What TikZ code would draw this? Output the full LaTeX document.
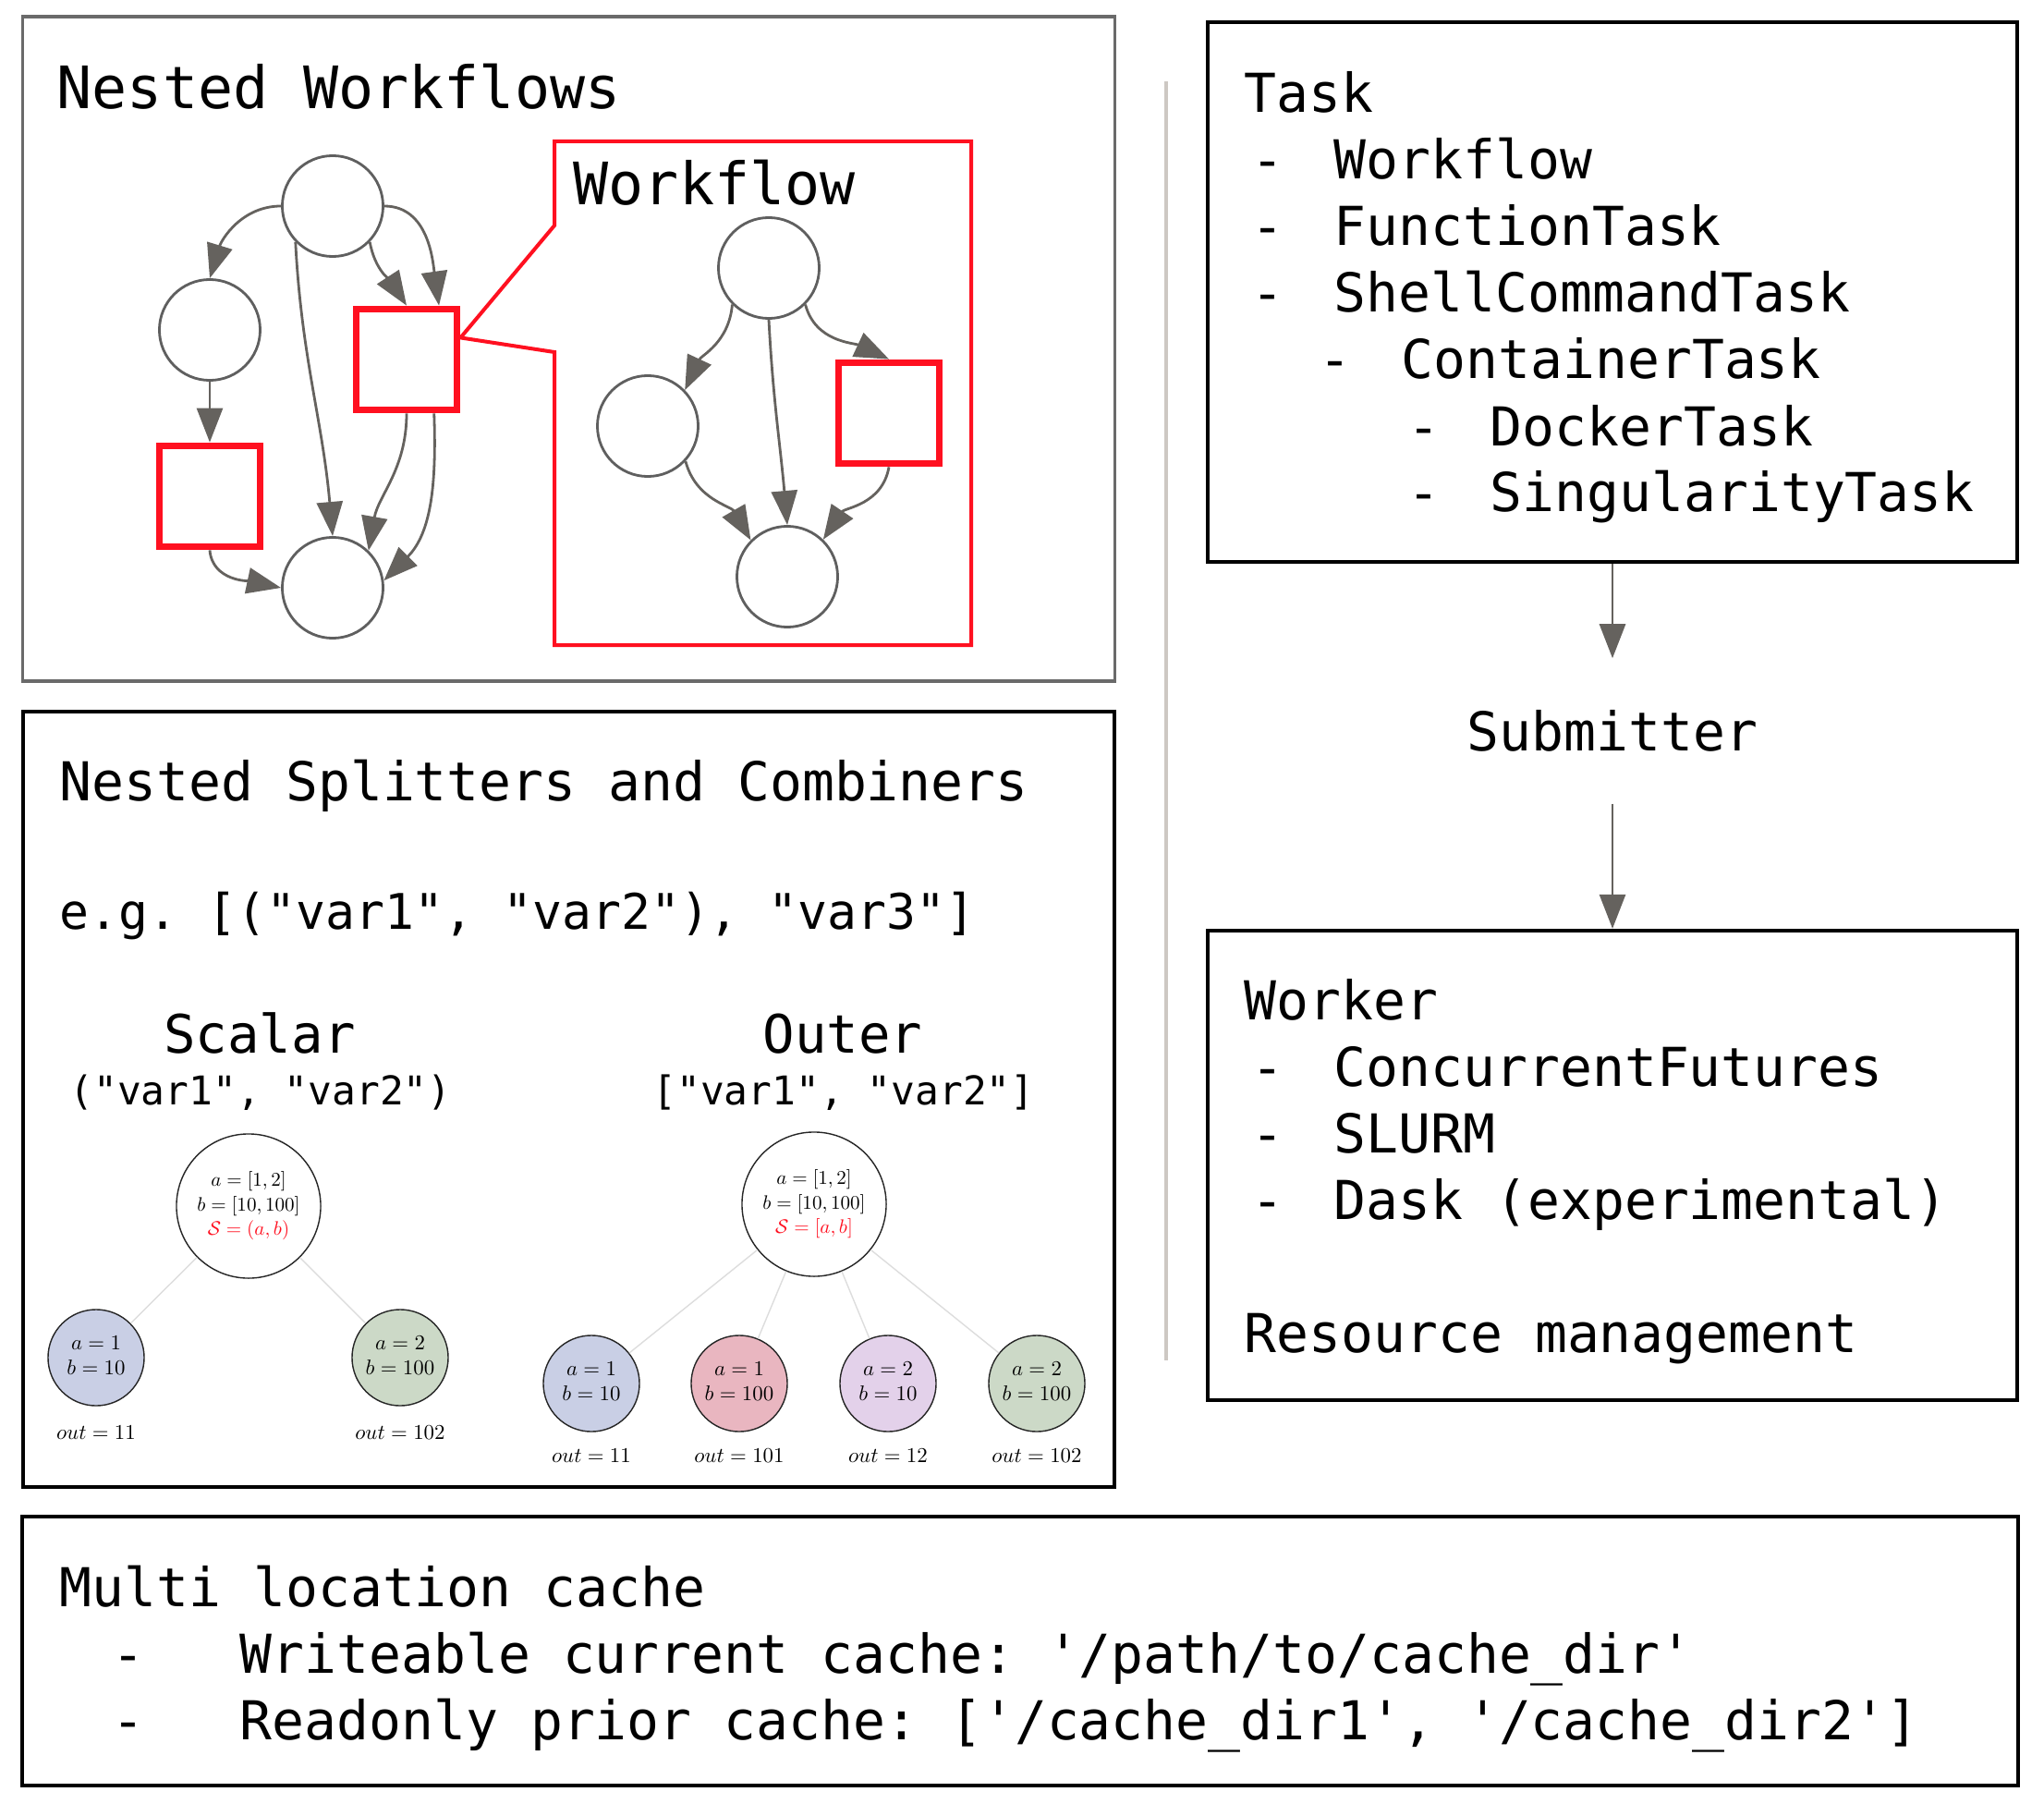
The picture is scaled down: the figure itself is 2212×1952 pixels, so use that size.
\documentclass[tikz,border=0pt]{standalone}
\usepackage{fontspec}
\usepackage{graphicx}
\setmonofont{DejaVu Sans Mono}
\usetikzlibrary{arrows.meta}
\definecolor{edgegray}{HTML}{65625E}
\definecolor{nodegray}{HTML}{5F5F5F}
\definecolor{wfred}{HTML}{FF1020}
\definecolor{framegray}{HTML}{6A6A6A}
\definecolor{sepgray}{HTML}{CDC8C3}
\definecolor{cblue}{HTML}{C9CFE5}
\definecolor{cpink}{HTML}{E9B6C0}
\definecolor{clav}{HTML}{E3D1EA}
\definecolor{cgreen}{HTML}{CCD9C7}
\definecolor{treeline}{HTML}{DDDDDD}
\newcommand\dashitem[2][0.89cm]{\makebox[#1][l]{-}#2}
\newcommand\mstack[3]{\scalebox{#1}{\fontsize{10}{#2}\selectfont\begin{tabular}{@{}c@{}}#3\end{tabular}}}
\begin{document}
\begin{tikzpicture}[x=0.01cm,y=0.01cm,
  panel/.style={draw=black,line width=0.04cm,inner sep=0},
  graypanel/.style={draw=framegray,line width=0.035cm,inner sep=0},
  wfcirc/.style={circle,draw=nodegray,line width=0.028cm,minimum size=1.09cm,inner sep=0},
  wfsq/.style={rectangle,draw=wfred,line width=0.077cm,minimum size=1.09cm,inner sep=0},
  flow/.style={draw=edgegray,line width=0.028cm,-{Triangle[length=0.37cm,width=0.28cm]}},
  bigtxt/.style={font=\ttfamily\fontsize{18}{22}\selectfont,anchor=base west,inner sep=0},
  txt/.style={font=\ttfamily\fontsize{16.5}{20}\selectfont,anchor=base west,inner sep=0},
  egtxt/.style={font=\ttfamily\fontsize{15.1}{18}\selectfont,anchor=base west,inner sep=0},
  headtxt/.style={font=\ttfamily\fontsize{16.3}{20}\selectfont,anchor=base,inner sep=0},
  subtxt/.style={font=\ttfamily\fontsize{12.2}{15}\selectfont,anchor=base,inner sep=0},
  treeroot/.style={circle,draw=black!85,line width=0.4pt,fill=white,minimum size=1.56cm,inner sep=0},
  leaf/.style={circle,draw=black!85,line width=0.4pt,minimum size=1.04cm,inner sep=0},
  outlbl/.style={inner sep=0},
  tedge/.style={draw=treeline,line width=0.4pt}
]
\useasboundingbox (0,0) rectangle (2212,-1952);
\fill[white] (0,0) rectangle (2212,-1952);

% ---------- panels ----------
\node[graypanel,minimum width=11.81cm,minimum height=7.19cm] (nwbox) at (615.5,-377.5) {};
\node[panel,minimum width=11.81cm,minimum height=8.39cm] (spbox) at (615.5,-1189.5) {};
\node[panel,minimum width=8.76cm,minimum height=5.84cm] (taskbox) at (1745,-316) {};
\node[panel,minimum width=8.76cm,minimum height=5.08cm] (workerbox) at (1745,-1261) {};
\node[panel,minimum width=21.58cm,minimum height=2.91cm] (cachebox) at (1104,-1786.5) {};

% separator
\draw[sepgray,line width=0.04cm] (1262,-88) -- (1262,-1472);

% ---------- Nested workflows ----------
\node[bigtxt] (nwtitle) at (61,-118) {Nested Workflows};

\node[wfcirc] (otop) at (360,-223) {};
\node[wfcirc] (oleft) at (227,-357) {};
\node[wfsq] (olsq) at (227,-537) {};
\node[wfsq] (orsq) at (440,-389) {};
\node[wfcirc] (obot) at (360,-636) {};

\node[wfcirc] (itop) at (832,-290) {};
\node[wfcirc] (ileft) at (701,-461) {};
\node[wfsq] (isq) at (962,-447) {};
\node[wfcirc] (ibot) at (852,-624) {};

\draw[wfred,line width=0.04cm,line join=miter] (600,-244) -- (orsq.22) -- (600,-381) -- (600,-698) -- (1051,-698) -- (1051,-153) -- (600,-153) -- cycle;
\node[bigtxt] (wftitle) at (620,-222) {Workflow};

\draw[flow] (otop.west) to[out=180,in=73] (oleft.north);
\draw[flow] (otop.224) to[out=-87,in=95] (obot.north);
\draw[flow] (otop.-44) to[out=-80,in=123] (orsq.north);
\draw[flow] (otop.east) to[out=0,in=98] (orsq.59);
\draw[flow] (oleft.south) -- (olsq.north);
\draw[flow] (olsq.south) to[out=-85,in=168] (obot.west);
\draw[flow] (orsq.south) to[out=-90,in=80] (obot.46);
\draw[flow] (orsq.-63) to[out=-88,in=45] (obot.8);

\draw[flow] (itop.225) to[out=-95,in=65] (ileft.44);
\draw[flow] (itop.south) to[out=-87,in=95] (ibot.north);
\draw[flow] (itop.-45) to[out=-75,in=155] (isq.north);
\draw[flow] (ileft.-43) to[out=-75,in=120] (ibot.135);
\draw[flow] (isq.south) to[out=-100,in=56] (ibot.46);

% ---------- Nested splitters ----------
\node[txt] (sptitle) at (64,-866) {Nested Splitters and Combiners};
\node[egtxt] (eg) at (64,-1005) {e.g. [("var1", "var2"), "var3"]};
\node[headtxt] (scalarh) at (281,-1139) {Scalar};
\node[subtxt] (scalars) at (282,-1195) {("var1", "var2")};
\node[headtxt] (outerh) at (912,-1139) {Outer};
\node[subtxt] (outers) at (913,-1195) {["var1", "var2"]};

\node[treeroot] (sroot) at (269,-1305) {\mstack{0.6}{12.6}{$a=[1,2]$\\$b=[10,100]$\\\textcolor{wfred}{$\mathcal{S}=(a,b)$}}};
\node[leaf,fill=cblue] (s1) at (104,-1469) {\mstack{0.65}{11.8}{$a=1$\\$b=10$}};
\node[leaf,fill=cgreen] (s2) at (433,-1469) {\mstack{0.65}{11.8}{$a=2$\\$b=100$}};
\draw[tedge] (sroot) -- (s1);
\draw[tedge] (sroot) -- (s2);
\node[outlbl] (s1o) at (104,-1552) {\mstack{0.65}{12}{$out=11$}};
\node[outlbl] (s2o) at (433,-1552) {\mstack{0.65}{12}{$out=102$}};

\node[treeroot] (oroot) at (881,-1303) {\mstack{0.6}{12.6}{$a=[1,2]$\\$b=[10,100]$\\\textcolor{wfred}{$\mathcal{S}=[a,b]$}}};
\node[leaf,fill=cblue] (o1) at (640,-1497) {\mstack{0.65}{11.8}{$a=1$\\$b=10$}};
\node[leaf,fill=cpink] (o2) at (800,-1497) {\mstack{0.65}{11.8}{$a=1$\\$b=100$}};
\node[leaf,fill=clav] (o3) at (961,-1497) {\mstack{0.65}{11.8}{$a=2$\\$b=10$}};
\node[leaf,fill=cgreen] (o4) at (1122,-1497) {\mstack{0.65}{11.8}{$a=2$\\$b=100$}};
\draw[tedge] (oroot) -- (o1);
\draw[tedge] (oroot) -- (o2);
\draw[tedge] (oroot) -- (o3);
\draw[tedge] (oroot) -- (o4);
\node[outlbl] (o1o) at (640,-1577) {\mstack{0.65}{12}{$out=11$}};
\node[outlbl] (o2o) at (800,-1577) {\mstack{0.65}{12}{$out=101$}};
\node[outlbl] (o3o) at (961,-1577) {\mstack{0.65}{12}{$out=12$}};
\node[outlbl] (o4o) at (1122,-1577) {\mstack{0.65}{12}{$out=102$}};

% ---------- Task / Submitter / Worker ----------
\node[txt] (t0) at (1346,-122) {Task};
\node[txt] (t1) at (1354,-194) {\dashitem{Workflow}};
\node[txt] (t2) at (1354,-266) {\dashitem{FunctionTask}};
\node[txt] (t3) at (1354,-338) {\dashitem{ShellCommandTask}};
\node[txt] (t4) at (1427,-410) {\dashitem{ContainerTask}};
\node[txt] (t5) at (1523,-482) {\dashitem{DockerTask}};
\node[txt] (t6) at (1523,-554) {\dashitem{SingularityTask}};

\node[font=\ttfamily\fontsize{16.5}{20}\selectfont,anchor=base,inner xsep=0,inner ysep=0.57cm,text height=0.42cm,text depth=0pt] (sub) at (1745,-812) {Submitter};
\draw[flow] (taskbox.south) -- (sub.north);
\draw[flow] (sub.south) -- (workerbox.north);

\node[txt] (w0) at (1346,-1103) {Worker};
\node[txt] (w1) at (1354,-1175) {\dashitem{ConcurrentFutures}};
\node[txt] (w2) at (1354,-1247) {\dashitem{SLURM}};
\node[txt] (w3) at (1354,-1319) {\dashitem{Dask (experimental)}};
\node[txt] (w4) at (1346,-1463) {Resource management};

% ---------- cache ----------
\node[txt] (c0) at (64,-1738) {Multi location cache};
\node[txt] (c1) at (121,-1810) {\dashitem[1.38cm]{Writeable current cache: '/path/to/cache\_dir'}};
\node[txt] (c2) at (121,-1882) {\dashitem[1.38cm]{Readonly prior cache: ['/cache\_dir1', '/cache\_dir2']}};
\end{tikzpicture}
\end{document}
